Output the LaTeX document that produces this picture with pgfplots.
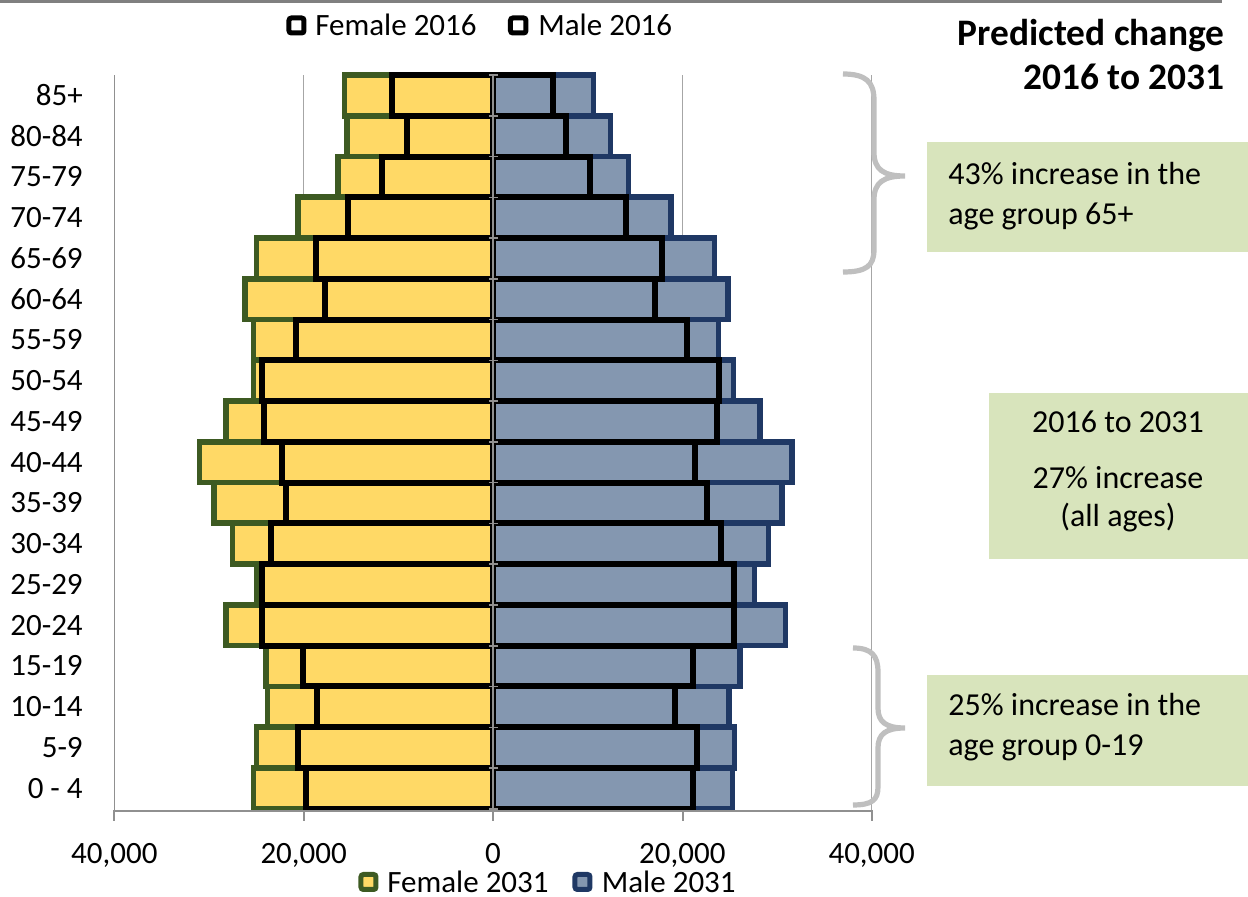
\documentclass[border=0pt]{standalone}
\usepackage{fontspec}
\setmainfont{Carlito}
\usepackage{pgfplots}
\pgfplotsset{compat=1.18}
\definecolor{fyel}{HTML}{FFD966}
\definecolor{fgrn}{HTML}{3D5A22}
\definecolor{mblu}{HTML}{8497B0}
\definecolor{mnav}{HTML}{1F3864}
\definecolor{boxg}{HTML}{D8E4BC}
\definecolor{gridc}{HTML}{A6A6A6}
\definecolor{axc}{HTML}{909090}
\definecolor{bracec}{HTML}{BFBFBF}
\begin{document}
\fontsize{15.5bp}{18.5bp}\selectfont
\begin{tikzpicture}
\useasboundingbox (0bp,0bp) rectangle (624bp,-448.5bp);
\begin{axis}[
  at={(57.15bp,-405.5bp)}, anchor=south west,
  scale only axis, width=378.7bp, height=368bp,
  xmin=-40000, xmax=40000, ymin=-0.56, ymax=17.5,
  xbar, bar width=1, bar shift=0pt,
  axis x line*=bottom, axis y line*=left,
  x axis line style={axc, line width=1.2bp},
  y axis line style={axc, line width=0.7bp},
  xtick={-40000,-20000,0,20000,40000},
  xticklabels={{40,000},{20,000},0,{20,000},{40,000}},
  ytick={0,...,17},
  yticklabels={0 - 4,5-9,10-14,15-19,20-24,25-29,30-34,35-39,40-44,45-49,50-54,55-59,60-64,65-69,70-74,75-79,80-84,85+},
  ytick style={draw=none},
  xtick style={draw=none},
  tick align=outside, major tick length=4.5bp,
  xmajorgrids, major grid style={gridc, line width=0.65bp},
  every tick label/.append style={font=\fontsize{15.5bp}{18bp}\selectfont},
  xticklabel style={anchor=north, inner sep=0pt, yshift=-11.5bp},
  yticklabel style={anchor=east, inner sep=0pt, xshift=-11.1bp},
  /pgf/number format/assume math mode=true,
  clip=false,
]
% Female 2031
\addplot[fill=fyel, draw=fgrn, line width=2.8bp] coordinates {
(-25300,0) (-25000,1) (-23800,2) (-24000,3) (-28200,4) (-25000,5) (-27500,6) (-29500,7) (-31000,8)
(-28200,9) (-25300,10) (-25300,11) (-26200,12) (-25000,13) (-20600,14) (-16400,15) (-15400,16) (-15700,17)};
% Male 2031
\addplot[fill=mblu, draw=mnav, line width=2.8bp] coordinates {
(25300,0) (25500,1) (24900,2) (26100,3) (30900,4) (27600,5) (29100,6) (30500,7) (31600,8)
(28200,9) (25400,10) (23800,11) (24800,12) (23400,13) (18800,14) (14300,15) (12400,16) (10600,17)};
% Female 2016
\addplot[fill=none, draw=black, line width=3bp] coordinates {
(-19700,0) (-20600,1) (-18600,2) (-20100,3) (-24400,4) (-24400,5) (-23400,6) (-21900,7) (-22300,8)
(-24200,9) (-24400,10) (-20800,11) (-17700,12) (-18700,13) (-15300,14) (-11700,15) (-9100,16) (-10700,17)};
% Male 2016
\addplot[fill=none, draw=black, line width=3bp] coordinates {
(21100,0) (21500,1) (19200,2) (21100,3) (25500,4) (25500,5) (24100,6) (22600,7) (21300,8)
(23700,9) (23900,10) (20500,11) (17100,12) (17800,13) (14000,14) (10200,15) (7700,16) (6300,17)};
\end{axis}
\begin{scope}[x=0.5bp, y=-0.5bp, every node/.style={inner sep=0pt}]
\draw[line width=1.5bp, color=gray] (0,1.5) -- (1222,1.5);
% central axis with category ticks
\draw[axc, line width=1bp] (493.3,75) -- (493.3,811);
\foreach \k in {0,...,18} \draw[axc, line width=0.75bp] (489,{75+\k*40.77}) -- (498,{75+\k*40.77});
% bottom axis with ticks
\draw[axc, line width=1.2bp] (114.3,811) -- (871.7,811);
\draw[axc, line width=1bp] (114.3,810) -- (114.3,821);
\draw[axc, line width=1bp] (303.6,810) -- (303.6,821);
\draw[axc, line width=1bp] (493.3,810) -- (493.3,821);
\draw[axc, line width=1bp] (682.6,810) -- (682.6,821);
\draw[axc, line width=1bp] (871.7,810) -- (871.7,821);
% legends
\draw[black, line width=2.5bp, fill=white, rounded corners=1.2bp] (289,18) rectangle (304,33);
\node[anchor=base west] at (315,35) {Female 2016};
\draw[black, line width=2.5bp, fill=white, rounded corners=1.2bp] (510.5,18) rectangle (526,33);
\node[anchor=base west] at (538,35) {Male 2016};
\draw[fgrn, line width=2.5bp, fill=fyel, rounded corners=1.2bp] (361,874.5) rectangle (376,889.5);
\node[anchor=base west] at (387,893) {Female 2031};
\draw[mnav, line width=2.5bp, fill=mblu, rounded corners=1.2bp] (575,874.5) rectangle (590,889.5);
\node[anchor=base west] at (601.5,893) {Male 2031};
% title
\node[anchor=base east, font=\fontsize{18.7bp}{22bp}\selectfont\bfseries] at (1225,45) {Predicted change};
\node[anchor=base east, font=\fontsize{18.7bp}{22bp}\selectfont\bfseries] at (1225,90) {2016 to 2031};
% braces
\draw[bracec, line width=2.6bp] (843,74) .. controls (866,74) and (874,82) .. (874,100) -- (874,152) .. controls (874,170) and (884,176) .. (905,176) .. controls (884,176) and (874,182) .. (874,200) -- (874,250) .. controls (874,266) and (866,272) .. (843,272);
\draw[bracec, line width=2.6bp] (853,648) .. controls (872,648) and (878,656) .. (878,672) -- (878,708) .. controls (878,722) and (886,728) .. (905,728) .. controls (886,728) and (878,734) .. (878,748) -- (878,787) .. controls (878,800) and (872,805) .. (853,805);
% boxes
\begin{scope}[every node/.append style={font=\fontsize{16bp}{19bp}\selectfont}]
\fill[boxg] (927,142) rectangle (1248,252);
\node[anchor=base west] at (948,185) {43\% increase in the};
\node[anchor=base west] at (948,225) {age group 65+};
\fill[boxg] (989,393) rectangle (1248,559);
\node[anchor=base] at (1118,433) {2016 to 2031};
\node[anchor=base] at (1118,489) {27\% increase};
\node[anchor=base] at (1118,527) {(all ages)};
\fill[boxg] (927,675) rectangle (1248,786);
\node[anchor=base west] at (948,716) {25\% increase in the};
\node[anchor=base west] at (948,756) {age group 0-19};
\end{scope}
\end{scope}
\end{tikzpicture}
\end{document}
